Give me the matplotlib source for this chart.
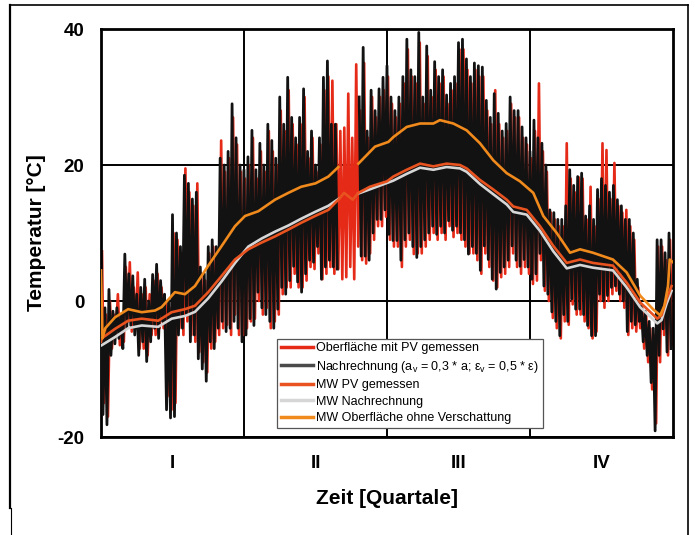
import numpy as np
import matplotlib
matplotlib.use("Agg")
import matplotlib.pyplot as plt
from matplotlib.lines import Line2D

plt.rcParams['font.family'] = ['Liberation Sans', 'DejaVu Sans']

nan = np.nan
# ---- data (quarters 0..4) ----
quarter_labels = ["I", "II", "III", "IV"]
y_ticks = [-20, 0, 20, 40]

# noisy series: alternating daily highs / lows (144 pairs over the year)
black_hi = [2, -1, 1.7, -1.5, -1, -2, 6.9, 4, 3.7, 1,
            2, 3.2, 0, 3.9, 5.4, 3, 1, 0, 12.7, 10,
            8, 18.5, 17.3, 15, 16, 5, 4, 8, 9, 8,
            21, 20, 22, 29, 24, 20, 19.3, 21.2, 25.1, 19.3,
            23.2, 20, 26, 23.6, 21, 30, 26, 32.9, 27, 24,
            27, 31.2, 22, 25, 20, 24, 32.9, 35.3, 26, 26,
            nan, nan, nan, nan, nan, 30, 37.3, 25, 31, 28,
            31.2, 32.9, 34.6, 30, 28, 30, 33, 38.5, 34, 33,
            39.5, 30, 37.5, 31, 35.2, 33, 34, 30.3, 32, 33,
            38, 38.5, 35.6, 33, 35, 34.6, 34.4, 29.5, 27, 30.5,
            27.6, 25, 26.1, 30, 28, 28, 25.6, 24, 22, 26.6,
            24, 23.2, 20, 13.4, 13, 12, 12, 14, 19.3, 17,
            18.3, 18.8, 12.5, 14, 12, 16.4, 18, 17, 16, 17,
            14.9, 14, 12, 12, 10, 3.2, -0.7, -1.5, -3, -4,
            9, 9, 7.1, 10]
black_lo = [-16.7, -18.2, -8, -6.3, -5.5, -7, -4, -3.6, -5, -8,
            -6, -8.9, -6, -4, -5.5, -3, -16, -17.2, -17, -5,
            -4, -2, -6, -5, -8.5, -10, -11.8, -6, -7, -4,
            -3, -4.5, -4, -3, -4, -6, -5, -2.6, -3.6, 1.3,
            -1, -2, -3, -4, -1.2, 2, 1, 3, 5.1, 2.8,
            1.3, 4, 6, 5.7, 8, 3.2, 5, 6, 5, 4.7,
            nan, nan, nan, nan, nan, 6.6, 6.6, 6, 10, 12,
            12, 13.4, 9.8, 8.9, 8.9, 6, 9, 10, 8, 6.4,
            8, 9, 10, 11, 9.8, 11, 10, 11.8, 10.4, 11,
            10, 9, 6.9, 8, 7, 4.5, 8.1, 6.1, 3.2, 1.75,
            4.2, 5, 6, 8.1, 6, 5.1, 6.1, 5, 3.2, 4,
            7, 2.2, 1, -1.6, -3, -5.1, -2, -3, 0.3, -1.2,
            -1.2, -2, -3.6, -5.1, -5.1, 1, 0, 0.8, 2, 2.2,
            1, 0, -4.5, -3, -3.5, -3, -6, -8, -12, -19.1,
            -8, -4.1, -7.5, -7]
red_hi = [7.3, -2, 0, -2, 1, -3, 5, 5.7, 2, 4.2,
          1, 2, 1, 3, 4, 2, 0, -1, 10, 9,
          7, 19.5, 16, 14, 17.3, 4, 3, 7, 8, 7,
          23.6, 19, 21, 27, 23, 19, 18, 20, 24, 18,
          22, 19, 25, 22, 20, 28, 25, 31, 26, 23,
          26, 30, 21, 24, 19, 23, 31, 33, 32.4, 26,
          25, 25.5, 30.5, 24, 34.8, 28, 35, 24, 30, 27,
          30, 31, 33, 29, 27, 29, 32, 37, 33, 32,
          38, 29, 36, 30, 34, 32, 33, 29, 31, 32,
          37, 37, 34, 32, 34, 33, 33, 28, 26, 31,
          26, 24, 25, 29, 27, 27, 24, 23, 21, 25,
          32, 22, 19, 13, 12, 11, 11, 23.2, 18, 16,
          18.2, 18, 12, 16.8, 11, 15, 23.2, 22.2, 15, 20.3,
          14, 13, 13.4, 11, 9, 2, -1, -2, -4, -5,
          8, 8, 6, 9]
red_lo = [-15, -17, -7, -5, -6.5, -6, -3, -4.5, -4, -7,
          -7, -8, -5, -5, -4, -4, -14, -16, -15, -4,
          -5, -3, -5, -6, -7.5, -9, -10.5, -7, -6, -5,
          -4, -3.5, -5, -2, -5, -5, -4, -3, -2.6, 0,
          -2, -1, -4, -3, -2, 1, 2, 2, 4, 2,
          2, 3, 5, 4.7, 7, 3.2, 4, 5, 4, 4.7,
          3.2, 3.5, 5, 3.2, 8, 6, 5.5, 7, 9, 11,
          11, 12.4, 9, 8, 8, 5, 8, 9, 6.9, 7,
          7, 8, 9, 10, 9, 10, 9, 11, 9.4, 10,
          9, 8, 7, 7, 6, 4, 7, 5, 3, 2,
          3.5, 4, 5, 7, 5, 4, 5, 4, 2.5, 3,
          6, 1.5, 0, -2.5, -4, -5.5, -3, -3.5, -0.5, -2,
          -2, -3, -4, -5.5, -4.5, 0, -1, 0, 1, 1.5,
          0, -1, -5, -4, -4.5, -4, -7, -9, -13, -18,
          -9, -5, -8, -6.5]

# moving averages
mw_ohne_t = [0.0, 0.01, 0.03, 0.098, 0.19, 0.285, 0.378, 0.424, 0.517, 0.587, 0.657,
             0.75, 0.844, 0.937, 1.007, 1.1, 1.217, 1.31, 1.4, 1.5, 1.59, 1.66, 1.7,
             1.8, 1.916, 2.01, 2.044, 2.138, 2.231, 2.324, 2.37, 2.464, 2.557, 2.65,
             2.743, 2.837, 2.93, 3.023, 3.093, 3.187, 3.28, 3.35, 3.44, 3.58, 3.676,
             3.77, 3.86, 3.91, 3.94, 3.965, 3.977, 4.0]
mw_ohne_v = [4.5, -5.5, -4.0, -2.4, -1.2, -1.65, -1.4, -0.9, 1.3, 1.0, 2.2,
             5.2, 8.1, 11.0, 12.5, 13.2, 14.9, 15.9, 16.8, 17.3, 18.3, 19.7, nan,
             20.2, 22.7, 23.4, 24.1, 25.6, 26.1, 26.1, 26.6, 26.1, 25.1, 23.2,
             20.7, 18.8, 17.6, 15.9, 12.5, 10.0, 7.1, 7.6, 7.1, 6.1, 4.2,
             0.8, -1.2, -2.1, -0.7, 2.2, 6.1, 5.7]

mw_pv_t = [0.0, 0.005, 0.098, 0.19, 0.285, 0.4, 0.494, 0.587, 0.657, 0.75, 0.844,
           0.937, 1.03, 1.124, 1.217, 1.31, 1.40, 1.497, 1.59, 1.636, 1.66, 1.7,
           1.73, 1.76, 1.8, 1.88, 2.0, 2.044, 2.138, 2.231, 2.324, 2.417, 2.51,
           2.557, 2.65, 2.743, 2.837, 2.883, 2.977, 3.07, 3.163, 3.257, 3.35,
           3.44, 3.58, 3.676, 3.77, 3.89, 3.92, 3.955, 3.99]
mw_pv_v = [-6.0, -5.5, -4.1, -2.9, -2.6, -2.9, -1.65, -1.2, -0.7, 1.3, 3.7,
           6.1, 7.6, 8.6, 9.5, 10.5, 11.5, 12.5, 13.4, 14.4, 14.9, 15.9,
           15.4, 14.9, 15.9, 16.8, 17.6, 18.3, 19.3, 20.2, 19.8, 20.2, 20.0,
           19.5, 17.8, 16.4, 14.9, 13.9, 13.4, 11.0, 8.1, 5.6, 6.1,
           5.6, 5.2, 2.7, -0.2, -2.6, -2.1, 0.3, 2.2]

mw_nach_t = [0.005, 0.098, 0.19, 0.285, 0.4, 0.494, 0.587, 0.657, 0.75, 0.844, 0.937,
             1.03, 1.124, 1.217, 1.31, 1.40, 1.497, 1.59, 1.66, 1.7, 1.8, 1.916,
             2.044, 2.138, 2.231, 2.324, 2.417, 2.51, 2.557, 2.65, 2.743, 2.837,
             2.883, 2.977, 3.07, 3.163, 3.257, 3.35, 3.44, 3.58, 3.676, 3.77,
             3.89, 3.92, 3.955, 3.99]
mw_nach_v = [-6.5, -5.3, -4.0, -3.6, -3.8, -2.6, -2.2, -1.6, 0.4, 2.9, 5.6,
             8.0, 9.2, 10.2, 11.1, 12.1, 13.1, 14.0, 15.0, nan, 15.8, 16.7,
             17.7, 18.7, 19.6, 19.3, 19.7, 19.5, 19.0, 17.2, 15.7, 14.2,
             13.1, 12.7, 10.3, 7.3, 4.8, 5.3, 4.9, 4.5, 2.0, -0.9,
             -3.3, -2.8, -0.4, 1.5]

labels = ["Oberfläche mit PV gemessen",
          "Nachrechnung (a$_\\mathregular{v}$ = 0,3 * a; ε$_\\mathregular{v}$ = 0,5 * ε)",
          "MW PV gemessen",
          "MW Nachrechnung",
          "MW Oberfläche ohne Verschattung"]
colors = ["#e52a18", "#4a4a4a", "#e8531f", "#d6d6d6", "#f08a1c"]


def interleave(hi, lo):
    out = []
    for h, l in zip(hi, lo):
        out.extend([h, l])
    return np.array(out, dtype=float)


n_pairs = len(black_hi)
black_vals = interleave(black_hi, black_lo)
red_vals = interleave(red_hi, red_lo)
t_black = np.arange(2 * n_pairs) * (4.0 / (2 * n_pairs))
t_red = t_black + 4.0 / (4 * n_pairs)

fig = plt.figure(figsize=(6.95, 5.35), dpi=100)
ax = fig.add_axes([101 / 695, 1 - 437 / 535, 572 / 695, 408 / 535])

ax.plot(t_red, red_vals, color=colors[0], lw=1.9, zorder=2)
ax.plot(t_black, black_vals, color="#121212", lw=2.0, zorder=3)
ax.plot(mw_nach_t, mw_nach_v, color=colors[3], lw=1.9, zorder=4)
ax.plot(mw_pv_t, mw_pv_v, color=colors[2], lw=1.9, zorder=5)
ax.plot(mw_ohne_t, mw_ohne_v, color=colors[4], lw=1.9, zorder=6)

ax.set_xlim(0, 4)
ax.set_ylim(-20, 40)
ax.set_yticks(y_ticks)
ax.set_yticklabels([str(v) for v in y_ticks], fontsize=13.5, fontweight="bold")
ax.set_xticks([1, 2, 3])
ax.set_xticklabels([])
ax.set_xticks([0.5, 1.5, 2.5, 3.5], minor=True)
ax.set_xticklabels(quarter_labels, minor=True, fontsize=13.5, fontweight="bold")
ax.tick_params(axis="both", which="both", length=0)
ax.tick_params(axis="x", which="minor", pad=13)
ax.tick_params(axis="y", pad=12)
ax.grid(True, which="major", color="black", lw=1.4)
ax.set_axisbelow(True)
for s in ax.spines.values():
    s.set_linewidth(2.0)
    s.set_color("black")
ax.set_xlabel("Zeit [Quartale]", fontsize=15, fontweight="bold", labelpad=12)
ax.set_ylabel("Temperatur [°C]", fontsize=15, fontweight="bold", labelpad=8)

handles = [Line2D([], [], color=c, lw=2.5) for c in colors]
leg = ax.legend(handles, labels, loc="lower left", bbox_to_anchor=(0.308, 0.022),
                borderaxespad=0, fontsize=9, frameon=True, fancybox=False,
                framealpha=1, edgecolor="#555555", handlelength=2.6,
                handletextpad=0.2, labelspacing=0.36, borderpad=0.3)
leg.get_frame().set_linewidth(0.9)
leg.set_zorder(10)

# figure frame
fig.add_artist(Line2D([10 / 695, 10 / 695], [1 - 5 / 535, 1 - 508 / 535],
                      transform=fig.transFigure, color="black", lw=1.6))
fig.add_artist(Line2D([11 / 695, 11 / 695], [1 - 508 / 535, 0],
                      transform=fig.transFigure, color="black", lw=0.8))
fig.add_artist(Line2D([10 / 695, 688 / 695], [1 - 5 / 535, 1 - 5 / 535],
                      transform=fig.transFigure, color="black", lw=1.2))
fig.add_artist(Line2D([688 / 695, 688 / 695], [1 - 5 / 535, 0],
                      transform=fig.transFigure, color="black", lw=1.2))

fig.savefig("out.png", dpi=100)
